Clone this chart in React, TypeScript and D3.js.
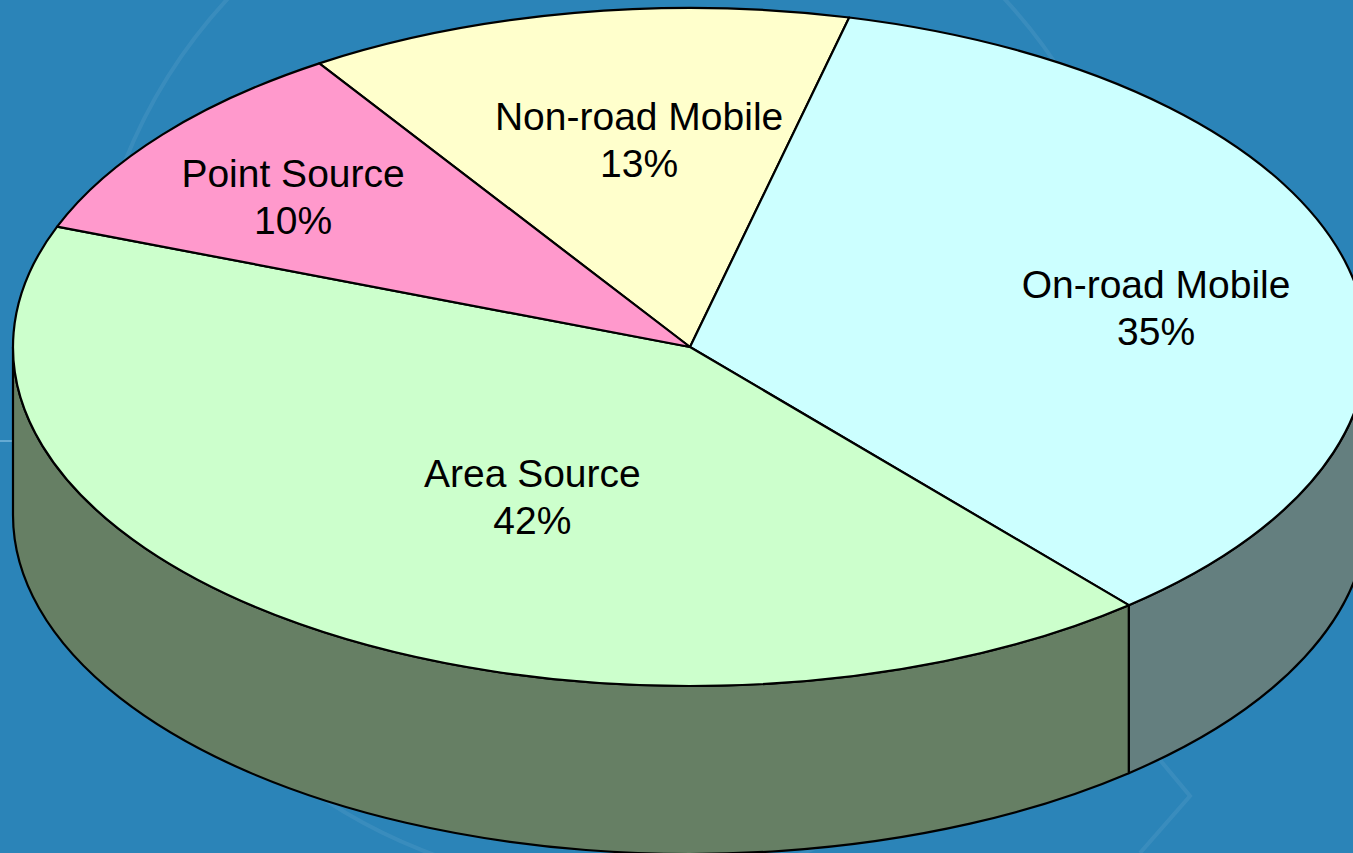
import React, { useEffect } from 'react'
import * as d3 from 'd3'

// slice data, clockwise from the top (same order Excel draws them)
const categories = ['Non-road Mobile', 'On-road Mobile', 'Area Source', 'Point Source']
const shares = [13, 35, 42, 10]
const topColors = ['#FFFFCC', '#CCFFFF', '#CCFFCC', '#FF99CC']
const sideColors = ['#80806A', '#647F7F', '#667F64', '#806A76']

const width = 1353
const height = 853
const cx = 690
const cy = 347
const rx = 677
const ry = 339
const depth = 168
// label tweak from the generic radial spot (Excel's 3D placement)
const labelNudge: { [k: string]: [number, number] } = {
  'Non-road Mobile': [24, 0],
  'On-road Mobile': [38, 2],
  'Area Source': [96, -40],
  'Point Source': [-54, -22],
}

const pt = (a: number, dy = 0): [number, number] => [cx + rx * Math.sin(a), cy - ry * Math.cos(a) + dy]

function topPath(a0: number, a1: number) {
  const p0 = pt(a0)
  const p1 = pt(a1)
  const large = a1 - a0 > Math.PI ? 1 : 0
  return `M${cx},${cy}L${p0[0]},${p0[1]}A${rx},${ry} 0 ${large} 1 ${p1[0]},${p1[1]}Z`
}

function sidePath(a0: number, a1: number) {
  // only the front half of the rim (pi/2 .. 3pi/2) can be seen
  const s = Math.max(a0, Math.PI / 2)
  const e = Math.min(a1, (3 * Math.PI) / 2)
  if (e <= s) return null
  const p0 = pt(s)
  const p1 = pt(e)
  const q1 = pt(e, depth)
  const q0 = pt(s, depth)
  return `M${p0[0]},${p0[1]}A${rx},${ry} 0 0 1 ${p1[0]},${p1[1]}L${q1[0]},${q1[1]}A${rx},${ry} 0 0 0 ${q0[0]},${q0[1]}Z`
}

export default function App() {
  useEffect(() => {
    document.body.style.margin = '0'
  }, [])

  const pie = d3
    .pie<number>()
    .sort(null)
    .value(d => d)
    .startAngle((-33.2 * Math.PI) / 180)
    .endAngle((-33.2 * Math.PI) / 180 + 2 * Math.PI)
  const arcs = pie(shares)
  const total = d3.sum(shares)

  return (
    <svg width={width} height={height} style={{ display: 'block' }}>
      <rect width={width} height={height} fill="#2B84B8" />
      {/* faint background decoration */}
      <circle cx={616} cy={358} r={529} fill="none" stroke="#ffffff" strokeOpacity={0.07} strokeWidth={4} />
      <polyline points="1160,760 1190,796 1140,853" fill="none" stroke="#ffffff" strokeOpacity={0.07} strokeWidth={4} />
      <line x1={0} y1={441} x2={12} y2={441} stroke="#9fd0ee" strokeWidth={1} />

      <g stroke="#000" strokeWidth={2.2} strokeLinejoin="round">
        {arcs.map((a, i) => {
          const d = sidePath(a.startAngle, a.endAngle)
          return d ? <path key={'s' + i} d={d} fill={sideColors[i]} /> : null
        })}
        {arcs.map((a, i) => (
          <path key={'t' + i} d={topPath(a.startAngle, a.endAngle)} fill={topColors[i]} />
        ))}
      </g>

      <g fontFamily="'Liberation Sans', Arial, sans-serif" fontSize={39} textAnchor="middle" fill="#000">
        {arcs.map((a, i) => {
          const mid = (a.startAngle + a.endAngle) / 2
          const [x0, y0] = pt(mid)
          const f = 0.65
          const nudge = labelNudge[categories[i]]
          const x = cx + (x0 - cx) * f + nudge[0]
          const y = cy + (y0 - cy) * f + nudge[1]
          const pct = Math.round((a.data / total) * 100) + '%'
          return (
            <text key={'l' + i} x={x} y={y}>
              <tspan x={x} dy={0}>{categories[i]}</tspan>
              <tspan x={x} dy={47}>{pct}</tspan>
            </text>
          )
        })}
      </g>
    </svg>
  )
}
